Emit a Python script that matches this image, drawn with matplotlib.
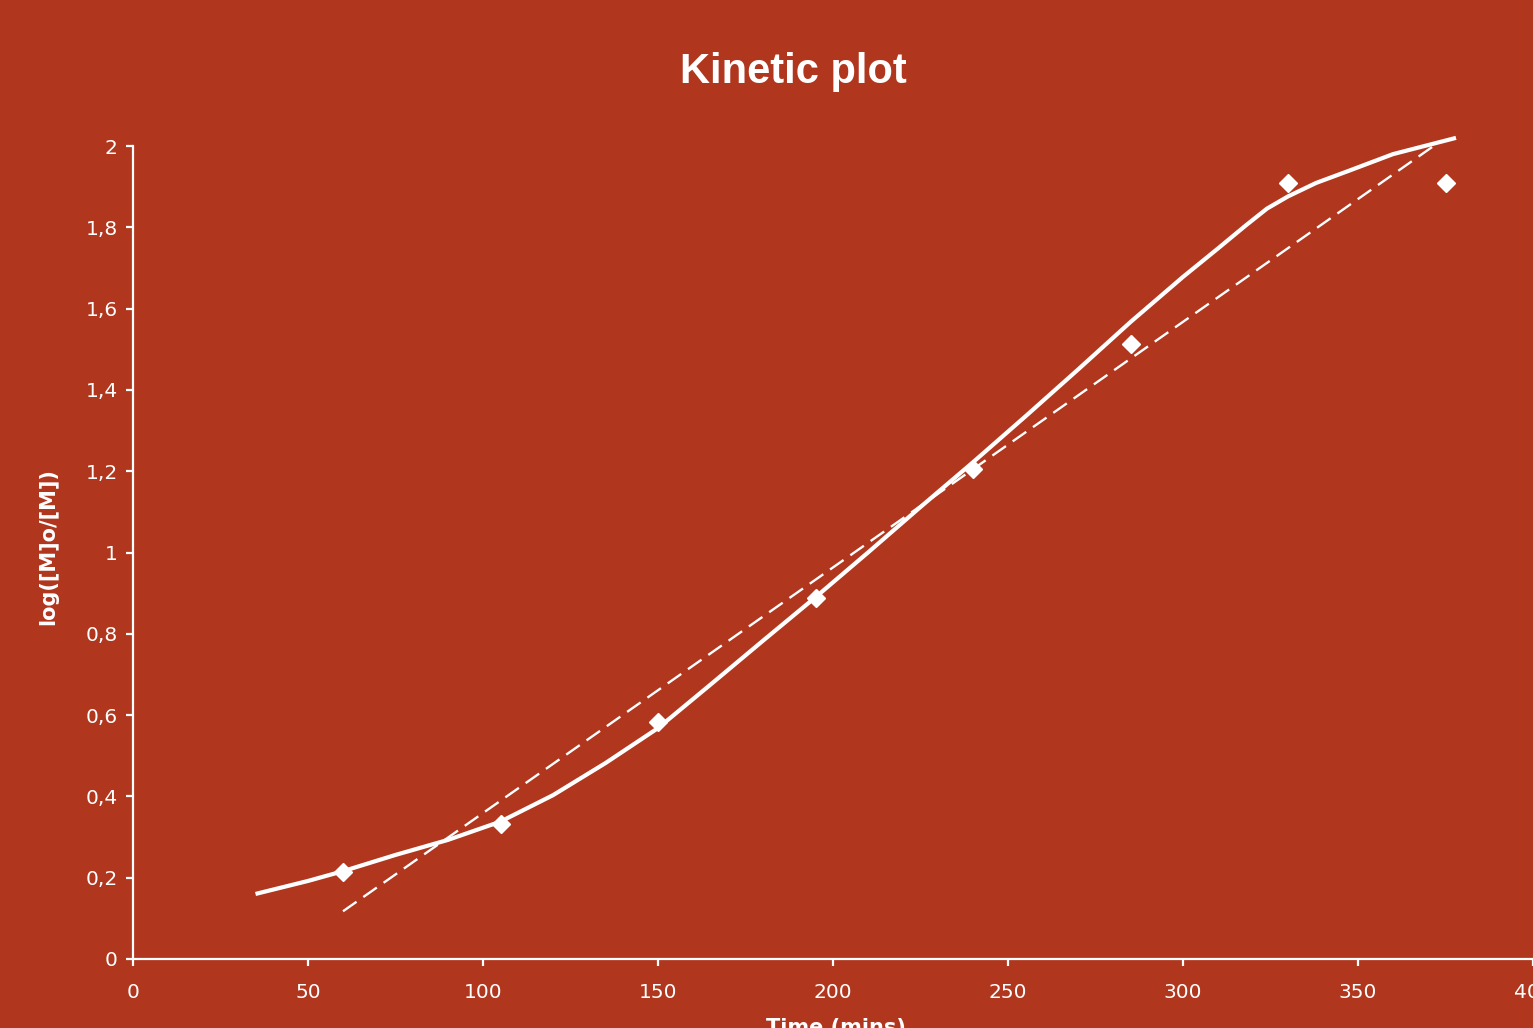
import numpy as np
import matplotlib
matplotlib.use("Agg")
import matplotlib.pyplot as plt
from matplotlib.ticker import FuncFormatter

# measured points (diamonds)
time_pts = [60, 105, 150, 195, 240, 285, 330, 375]
logm_pts = [0.215, 0.332, 0.583, 0.888, 1.205, 1.513, 1.908, 1.908]

# smooth hand-drawn curve
curve_x = [35, 50, 60, 75, 90, 105, 120, 135, 150, 165, 180, 195, 210,
           225, 240, 255, 270, 285, 300, 310, 318, 324, 330, 338, 348, 360, 378]
curve_y = [0.160, 0.192, 0.216, 0.256, 0.293, 0.338, 0.403, 0.482, 0.568,
           0.675, 0.783, 0.890, 1.000, 1.112, 1.222, 1.335, 1.450, 1.567,
           1.678, 1.748, 1.805, 1.846, 1.876, 1.909, 1.941, 1.980, 2.020]

x_ticks = [0, 50, 100, 150, 200, 250, 300, 350, 400]
y_ticks = [0, 0.2, 0.4, 0.6, 0.8, 1.0, 1.2, 1.4, 1.6, 1.8, 2.0]

bg = "#B0361E"
fg = "white"

fig = plt.figure(figsize=(15.33, 10.28), dpi=100, facecolor=bg)
ax = fig.add_axes([133 / 1533, 69 / 1028, 1400 / 1533, 813 / 1028])
ax.set_facecolor(bg)

# linear trendline from the points
k, b = np.polyfit(time_pts, logm_pts, 1)
tx = np.array([time_pts[0], 373])
ax.plot(tx, k * tx + b, color=fg, lw=1.7, linestyle=(0, (7, 3.5)), clip_on=False)

ax.plot(curve_x, curve_y, color=fg, lw=3, solid_capstyle="butt",
        solid_joinstyle="round", clip_on=False)
ax.plot(time_pts, logm_pts, linestyle="none", marker="D", markersize=9.5,
        color=fg, markeredgecolor=fg, clip_on=False)

ax.set_xlim(0, 400)
ax.set_ylim(0, 2)
ax.set_xticks(x_ticks)
ax.set_yticks(y_ticks)
ax.yaxis.set_major_formatter(FuncFormatter(lambda v, p: f"{v:g}".replace(".", ",")))

for s in ["top", "right"]:
    ax.spines[s].set_visible(False)
for s in ["left", "bottom"]:
    ax.spines[s].set_color(fg)
    ax.spines[s].set_linewidth(1.6)
ax.tick_params(colors=fg, length=5, width=1.6, labelsize=14.5)
ax.tick_params(axis="x", pad=12)
ax.tick_params(axis="y", pad=6)

fig.text(793 / 1533, 1 - 72 / 1028, "Kinetic plot", color=fg, fontsize=30,
         fontweight="bold", family="Liberation Sans", ha="center", va="center")
fig.text(48 / 1533, 1 - 547 / 1028, "log([M]o/[M])", color=fg, fontsize=15,
         fontweight="bold", rotation=90, ha="center", va="center")
fig.text(836 / 1533, 1 - 1018 / 1028, "Time (mins)", color=fg, fontsize=15,
         fontweight="bold", ha="center", va="top")

fig.savefig("out.png", dpi=100, facecolor=bg)
